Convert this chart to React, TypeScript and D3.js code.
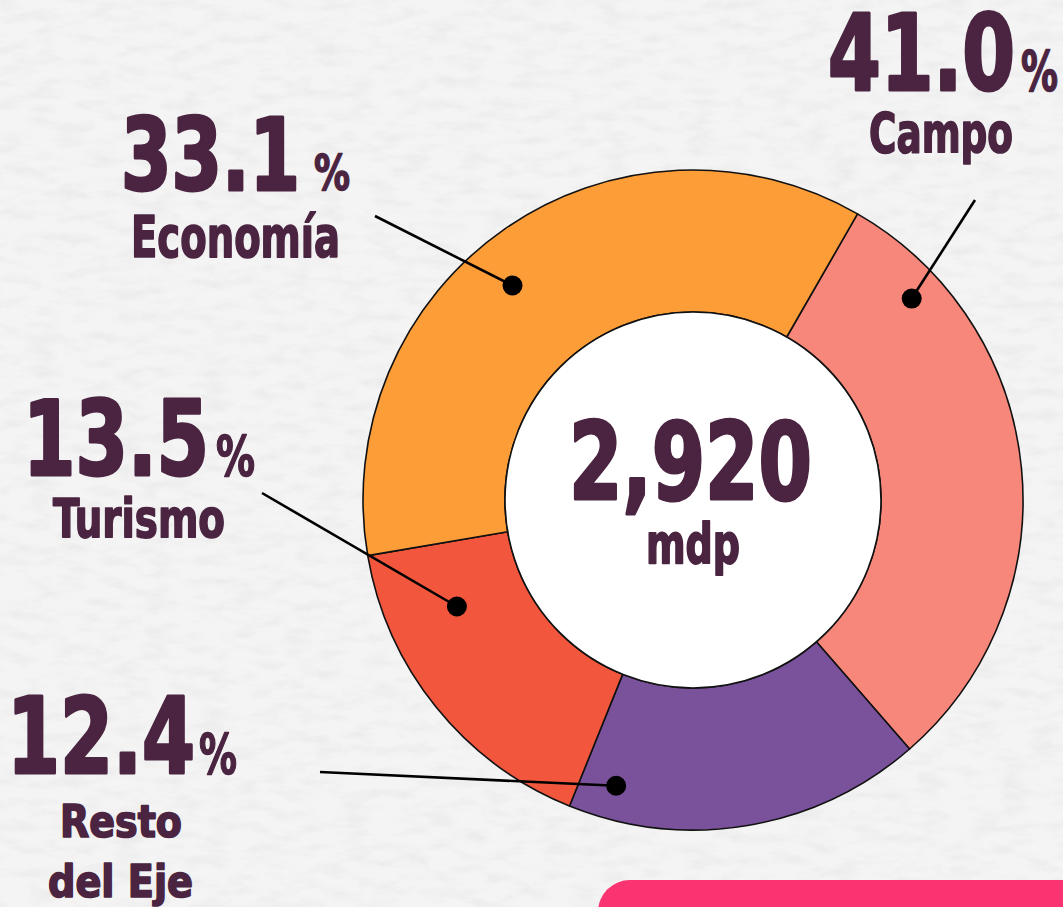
import React, { useRef, useEffect } from "react"
import * as d3 from "d3"

// categories in drawing order (clockwise from the Campo / Economía boundary)
const categories = ["Campo", "Resto del Eje", "Turismo", "Economía"]
const percentLabels = ["41.0", "12.4", "13.5", "33.1"]
const arcShares = [30.3, 17.5, 16.2, 36.0]
const sliceColors = ["#F7877A", "#7A519B", "#F2573D", "#FD9D38"]
// where each callout dot sits inside its slice: fraction of slice angle, fraction of ring depth
const dotAngleFrac = [0.16, 0.89, 0.75, 0.46]
const dotDepthFrac = [0.77, 0.76, 0.5, 0.65]
const totalLabel = "2,920"
const unitLabel = "mdp"

const W = 1063
const H = 907
const TEXT = "#4A2440"
const FONT = "'Liberation Sans Narrow', 'DejaVu Sans Condensed', 'Liberation Sans', Arial, sans-serif"

const App: React.FC = () => {
  const svgRef = useRef<SVGSVGElement>(null)

  useEffect(() => {
    if (!svgRef.current) return
    const svg = d3.select(svgRef.current)
    svg.selectAll("*").remove()

    // paper texture background
    const defs = svg.append("defs")
    const f = defs
      .append("filter")
      .attr("id", "paper")
      .attr("x", 0)
      .attr("y", 0)
      .attr("width", "100%")
      .attr("height", "100%")
    f.append("feTurbulence")
      .attr("type", "fractalNoise")
      .attr("baseFrequency", "0.035 0.09")
      .attr("numOctaves", 4)
      .attr("seed", 11)
    f.append("feColorMatrix")
      .attr("type", "matrix")
      .attr("values", "0 0 0 0 0.6  0 0 0 0 0.6  0 0 0 0 0.6  1.3 0 0 0 -0.55")

    svg.append("rect").attr("width", W).attr("height", H).attr("fill", "#f4f4f4")
    svg
      .append("rect")
      .attr("width", W)
      .attr("height", H)
      .attr("filter", "url(#paper)")
      .attr("opacity", 0.35)

    // pink banner at the bottom right
    svg
      .append("rect")
      .attr("x", 598)
      .attr("y", 880)
      .attr("width", 520)
      .attr("height", 80)
      .attr("rx", 32)
      .attr("fill", "#F93470")

    const cx = 693
    const cy = 500
    const outerR = 330
    const innerR = 188
    const start = (29.9 * Math.PI) / 180

    const pie = d3
      .pie<number>()
      .sort(null)
      .value((d) => d)
      .startAngle(start)
      .endAngle(start + 2 * Math.PI)
    const arcs = pie(arcShares)

    const arc = d3.arc<d3.PieArcDatum<number>>().innerRadius(innerR).outerRadius(outerR)

    const g = svg.append("g").attr("transform", `translate(${cx},${cy})`)

    g.selectAll(".slice")
      .data(arcs)
      .enter()
      .append("path")
      .attr("d", arc)
      .attr("fill", (_, i) => sliceColors[i])
      .attr("stroke", "#111")
      .attr("stroke-width", 1.6)
      .attr("stroke-linejoin", "round")

    g.append("circle")
      .attr("r", innerR)
      .attr("fill", "#fff")
      .attr("stroke", "#111")
      .attr("stroke-width", 1.6)

    // callouts
    const labelEnds: [number, number][] = [
      [975, 200],
      [320, 772],
      [262, 493],
      [375, 216],
    ]
    const dots = arcs.map((a, i) => {
      const ang = a.startAngle + (a.endAngle - a.startAngle) * dotAngleFrac[i]
      const r = innerR + (outerR - innerR) * dotDepthFrac[i]
      return [cx + r * Math.sin(ang), cy - r * Math.cos(ang)]
    })

    svg
      .selectAll(".leader")
      .data(dots)
      .enter()
      .append("line")
      .attr("x1", (_, i) => labelEnds[i][0])
      .attr("y1", (_, i) => labelEnds[i][1])
      .attr("x2", (d) => d[0])
      .attr("y2", (d) => d[1])
      .attr("stroke", "#000")
      .attr("stroke-width", 2.6)

    svg
      .selectAll(".dot")
      .data(dots)
      .enter()
      .append("circle")
      .attr("cx", (d) => d[0])
      .attr("cy", (d) => d[1])
      .attr("r", 10)
      .attr("fill", "#000")

    const styleText = (sel: any, size: number, sw: number) =>
      sel
        .attr("font-family", FONT)
        .attr("font-weight", 700)
        .attr("font-size", size)
        .attr("fill", TEXT)
        .attr("stroke", TEXT)
        .attr("stroke-width", sw)
        .attr("stroke-linejoin", "round")

    const addText = (t: string, x: number, y: number, size: number, len: number, sw = 1.5) =>
      styleText(svg.append("text"), size, sw)
        .attr("x", x)
        .attr("y", y)
        .attr("textLength", len)
        .attr("lengthAdjust", "spacingAndGlyphs")
        .text(t)

    // number + small "%" in one text element
    const addPercent = (
      num: string,
      x: number,
      y: number,
      size: number,
      len: number,
      px: number,
      psize: number,
      plen: number
    ) => {
      const t = styleText(svg.append("text"), size, 3).attr("y", y)
      t.append("tspan")
        .attr("x", x)
        .attr("textLength", len)
        .attr("lengthAdjust", "spacingAndGlyphs")
        .text(num)
      t.append("tspan")
        .attr("x", px)
        .attr("font-size", psize)
        .attr("stroke-width", 1.4)
        .attr("textLength", plen)
        .attr("lengthAdjust", "spacingAndGlyphs")
        .text("%")
    }

    const layout = [
      { nx: 828, ny: 90, ns: 106, nl: 187, px: 1021, ps: 55, pl: 37, lines: [{ x: 869, y: 152, s: 56, l: 144 }] },
      {
        nx: 7, ny: 773, ns: 105, nl: 188, px: 199, ps: 55, pl: 38,
        lines: [{ x: 60, y: 837, s: 44, l: 122 }, { x: 48, y: 897, s: 44, l: 145 }],
      },
      { nx: 23, ny: 475, ns: 104, nl: 186, px: 216, ps: 55, pl: 39, lines: [{ x: 53, y: 537, s: 54, l: 172 }] },
      { nx: 121, ny: 190, ns: 100, nl: 179, px: 314, ps: 49, pl: 36, lines: [{ x: 131, y: 257, s: 57, l: 209 }] },
    ]
    const nameLines = [["Campo"], ["Resto", "del Eje"], ["Turismo"], ["Economía"]]

    categories.forEach((_, i) => {
      const L = layout[i]
      addPercent(percentLabels[i], L.nx, L.ny, L.ns, L.nl, L.px, L.ps, L.pl)
      L.lines.forEach((ln, j) => addText(nameLines[i][j], ln.x, ln.y, ln.s, ln.l, 1.6))
    })

    addText(totalLabel, 569, 499, 107, 243, 3)
    addText(unitLabel, 646, 563, 56, 94, 1.8)
  }, [])

  return (
    <svg
      ref={svgRef}
      width={W}
      height={H}
      style={{ position: "absolute", left: 0, top: 0, display: "block" }}
    />
  )
}

export default App
